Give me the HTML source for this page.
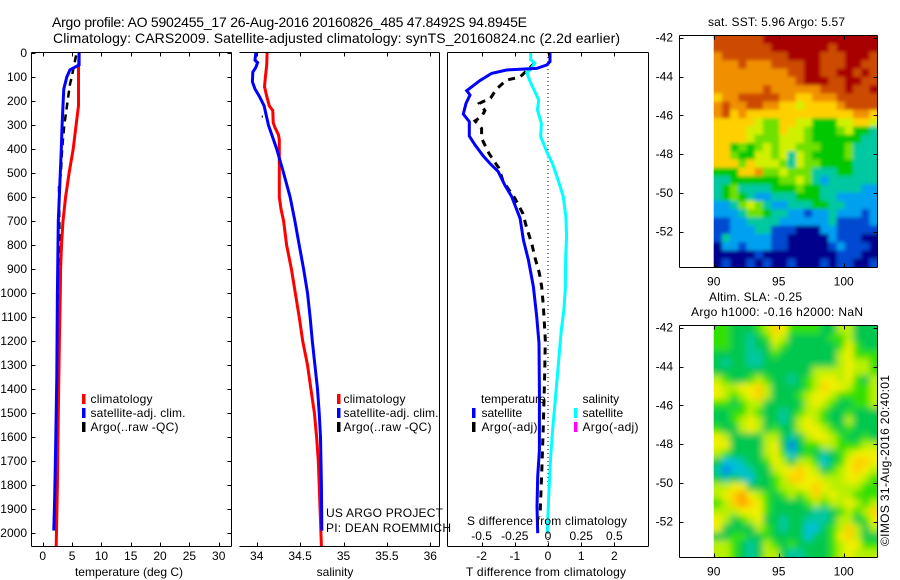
<!DOCTYPE html>
<html><head><meta charset="utf-8"><title>Argo profile</title>
<style>
html,body{margin:0;padding:0;background:#fff;width:900px;height:580px;overflow:hidden}
svg{display:block}
text{font-family:"Liberation Sans",sans-serif;font-size:12px;fill:#000}
</style></head>
<body>
<svg id="fig" width="900" height="580" viewBox="0 0 900 580" xmlns="http://www.w3.org/2000/svg">
<defs>
<clipPath id="clip-sst"><rect x="713.7" y="35.5" width="164" height="232"/></clipPath>
<clipPath id="clip-sla"><rect x="713.7" y="325.5" width="164" height="232"/></clipPath>
<filter id="soft-sst" x="-10%" y="-10%" width="120%" height="120%"><feGaussianBlur stdDeviation="1.8"/></filter>
<filter id="soft-sla" x="-10%" y="-10%" width="120%" height="120%"><feGaussianBlur stdDeviation="3.5"/></filter>
</defs>
<rect x="0" y="0" width="900" height="580" fill="#fff"/>
<text x="52" y="27" style="font-size:14px" textLength="475">Argo profile: AO 5902455_17 26-Aug-2016 20160826_485 47.8492S 94.8945E</text>
<text x="53" y="43" style="font-size:14px" textLength="567">Climatology: CARS2009. Satellite-adjusted climatology: synTS_20160824.nc (2.2d earlier)</text>
<g id="heat"></g>
<g id="marks"></g>
<g id="axes"></g>
<g>
<rect x="82" y="394" width="3.5" height="10" fill="#f00"/><rect x="82" y="408" width="3.5" height="10" fill="#00f"/><rect x="82" y="422" width="3.5" height="10" fill="#000"/>
<text x="90.5" y="403" textLength="62">climatology</text><text x="90.5" y="417" textLength="95">satellite-adj. clim.</text><text x="90.5" y="431" textLength="88">Argo(..raw -QC)</text>
</g>
<g>
<rect x="337" y="394" width="3.5" height="10" fill="#f00"/><rect x="337" y="408" width="3.5" height="10" fill="#00f"/><rect x="337" y="422" width="3.5" height="10" fill="#000"/>
<text x="343.5" y="403" textLength="62">climatology</text><text x="343.5" y="417" textLength="95">satellite-adj. clim.</text><text x="343.5" y="431" textLength="88">Argo(..raw -QC)</text>
</g>
<g>
<rect x="472" y="408" width="3.5" height="10" fill="#00f"/><rect x="472" y="422" width="3.5" height="10" fill="#000"/>
<rect x="574" y="408" width="3.5" height="10" fill="#0ff"/><rect x="574" y="422" width="3.5" height="10" fill="#f0f"/>
<text x="481" y="403">temperature</text><text x="481.5" y="417">satellite</text><text x="481.5" y="431" textLength="56">Argo(-adj)</text>
<text x="582.5" y="403">salinity</text><text x="582.5" y="417">satellite</text><text x="582.5" y="431" textLength="56">Argo(-adj)</text>
</g>
<text x="326" y="517" textLength="117">US ARGO PROJECT</text>
<text x="326" y="532" textLength="125">PI: DEAN ROEMMICH</text>
<text x="467" y="525" textLength="160">S difference from climatology</text>
<text x="129" y="576" text-anchor="middle">temperature (deg C)</text>
<text x="335" y="576" text-anchor="middle">salinity</text>
<text x="466" y="576" textLength="160">T difference from climatology</text>
<text x="708" y="26" textLength="137">sat. SST: 5.96 Argo: 5.57</text>
<text x="709" y="301" textLength="93">Altim. SLA: -0.25</text>
<text x="691" y="316" textLength="172">Argo h1000: -0.16 h2000: NaN</text>
<text transform="translate(889,546) rotate(-90)" textLength="171">©IMOS 31-Aug-2016 20:40:01</text>
</svg>
<script>
/* ---- profile data ---- */
const depthTicks = [0,100,200,300,400,500,600,700,800,900,1000,1100,1200,1300,1400,1500,1600,1700,1800,1900,2000];
const tempTicks = [0,5,10,15,20,25,30];
const salTicks = [34,34.5,35,35.5,36];
const salTickLabels = ['34','34.5','35','35.5','36'];
const tDiffTicks = [-2,-1,0,1,2];
const sDiffTicks = [-0.5,-0.25,0,0.25,0.5];
const sDiffTickLabels = ['-0.5','-0.25','0','0.25','0.5'];
const latTicks = [-42,-44,-46,-48,-50,-52];
const lonTicks = [90,95,100];

const tempClimDepth = [0,60,170,220,300,400,500,600,700,800,900,1000,1200,1500,1800,2054];
const tempClimValue = [6.2,6.1,6.1,6.1,5.7,5.2,4.5,3.9,3.46,3.2,3.05,3.0,2.85,2.66,2.5,2.3];
const tempSatDepth = [0,50,70,100,150,200,300,400,500,600,700,900,1000,1350,1650,1850,1990];
const tempSatValue = [6.2,6.2,4.65,4.1,3.6,3.5,3.3,3.17,3.0,2.83,2.66,2.55,2.5,2.4,2.2,2.05,1.9];
const tempArgoDepth = [10,100,130,180,250,300,350,400,500,550,700,800,900,1000,1300,1500,2000];
const tempArgoValue = [5.7,4.95,4.65,4.37,3.97,3.68,3.5,3.3,3.1,2.78,2.83,2.9,2.83,2.9,2.72,2.55,2.25];

const salClimDepth = [0,50,100,140,180,220,240,290,310,340,360,600,650,700,800,900,1000,1100,1200,1300,1400,1500,1600,1700,1800,2054];
const salClimValue = [34.12,34.115,34.10,34.09,34.115,34.145,34.185,34.19,34.21,34.25,34.26,34.26,34.28,34.31,34.345,34.40,34.445,34.49,34.53,34.585,34.625,34.665,34.69,34.71,34.72,34.745];
const salSatDepth = [0,30,40,60,80,120,150,180,220,300,400,500,600,700,800,900,1000,1100,1200,1300,1400,1500,1600,1800,1990];
const salSatValue = [33.99,33.98,34.01,33.99,33.955,33.95,33.98,34.03,34.085,34.135,34.23,34.31,34.385,34.44,34.49,34.54,34.585,34.615,34.64,34.67,34.70,34.72,34.735,34.745,34.75];
const salArgoDepth = [260,270];
const salArgoValue = [34.065,34.065];

const tDiffSatDepth = [0,36,50,64,71,85,115,157,175,210,254,286,346,383,429,460,494,550,599,689,779,862,974,1098,1210,1404,1654,1765,1890,2001];
const tDiffSatValue = [0.06,0.06,-0.04,-0.34,-1.25,-1.70,-2.05,-2.45,-2.35,-2.47,-2.55,-2.37,-2.37,-2.2,-1.95,-1.75,-1.5,-1.3,-1.09,-0.84,-0.74,-0.59,-0.44,-0.34,-0.27,-0.26,-0.26,-0.31,-0.33,-0.31];
const sDiffSatDepth = [0,28,42,71,82,119,154,196,237,293,348,411,462,536,599,682,765,849,981,1071,1154,1251,1348,1459,1571,1682,1848,2001];
const sDiffSatValue = [-0.13,-0.13,-0.10,-0.135,-0.16,-0.135,-0.105,-0.07,-0.08,-0.05,-0.055,-0.01,0.035,0.08,0.115,0.135,0.14,0.133,0.13,0.12,0.10,0.085,0.07,0.053,0.035,0.02,0.005,-0.005];
const tDiffArgoDepth = [40,100,113,150,188,210,240,265,283,314,355,418,480,536,605,668,730,793,855,918,974,1057,1196,1335,1543,1751,1932];
const tDiffArgoValue = [-0.39,-0.84,-1.25,-1.55,-1.73,-2.07,-1.9,-2.0,-2.2,-2.0,-2.0,-1.78,-1.48,-1.35,-1.0,-0.76,-0.64,-0.49,-0.39,-0.26,-0.19,-0.14,-0.08,-0.10,-0.14,-0.19,-0.24];

/* ---- map data: colour level per cell, north to south ---- */
const sstPalette = ['#00008c','#0048d0','#00a0f0','#00c8a0','#00c800','#70e000','#d0f000','#ffd000','#f09000','#cc4c00','#a80000'];
const slaPalette = ['#0080f0','#00c0d8','#00c8a0','#00c850','#30e000','#b8f000','#f0f000','#ffd000','#ffa000'];
const sstLevels = [
[9,9,9,9,9,9,10,10,10,10,10,10,10,10,10,10,10,10,10,10],
[9,9,9,9,9,9,9,10,10,10,10,10,10,10,9,10,10,10,10,10],
[8,9,9,9,9,9,9,9,9,10,10,10,10,9,9,9,10,10,10,9],
[8,8,8,9,8,8,8,9,9,9,9,10,10,9,9,9,10,10,9,9],
[8,8,8,8,8,8,8,8,8,9,9,10,10,9,9,10,10,9,10,9],
[8,8,8,8,8,8,8,8,8,8,9,10,10,10,9,9,10,10,9,9],
[8,8,8,8,8,8,9,8,8,8,8,8,8,9,9,9,10,9,9,10],
[7,8,8,9,9,9,9,9,8,8,7,7,8,8,8,9,9,9,9,9],
[8,9,8,8,9,9,8,8,7,7,6,7,7,7,7,8,9,9,9,9],
[8,9,7,8,7,7,7,7,7,7,7,7,7,7,7,7,7,8,8,7],
[7,7,7,7,7,6,5,5,7,7,6,6,4,4,4,6,6,7,7,6],
[7,7,7,7,6,6,5,5,7,6,6,5,4,4,4,5,6,4,4,3],
[7,7,7,7,6,5,5,5,6,6,6,5,4,4,4,4,4,4,3,3],
[7,7,4,5,4,5,6,5,6,6,5,5,5,4,4,4,5,3,3,3],
[7,7,5,4,4,6,6,5,6,3,6,5,4,4,4,4,5,3,3,3],
[7,7,7,5,7,6,6,6,5,3,6,5,5,4,4,4,4,3,3,3],
[4,4,4,7,7,8,5,5,6,5,5,5,3,3,3,4,4,3,3,3],
[3,3,4,4,4,4,4,4,5,5,6,5,3,2,3,3,3,3,3,3],
[3,4,5,3,3,3,3,4,4,4,5,4,4,3,3,3,3,3,2,2],
[3,4,5,4,3,2,2,3,3,3,4,4,4,3,3,2,2,2,2,2],
[2,2,3,5,6,5,3,2,2,3,3,3,4,4,3,3,2,2,2,2],
[2,2,2,3,5,5,4,3,3,2,2,1,2,2,3,2,2,2,1,2],
[1,1,2,2,3,3,3,3,2,2,2,2,2,2,3,1,1,1,1,2],
[1,1,2,2,2,3,3,1,1,1,0,0,0,2,2,1,1,1,1,1],
[1,3,2,2,2,2,2,1,1,0,0,0,0,0,2,1,1,1,0,0],
[0,2,2,1,2,2,2,1,1,0,0,0,0,0,1,2,1,1,1,0],
[0,0,0,0,0,1,0,0,0,0,0,0,0,0,0,1,1,1,0,0],
[0,1,0,0,1,0,1,0,0,1,0,0,0,1,0,1,1,0,0,1]];
const slaLevels = [
[4,4,3,3,3,4,5,7,6,4,4,4,4,3,3,5,5,3,3,3],
[4,4,3,3,2,3,4,6,5,3,3,3,3,3,4,4,5,3,3,3],
[4,4,3,3,2,3,3,5,4,3,3,3,3,3,3,4,6,4,3,3],
[3,3,3,3,2,2,3,4,3,3,3,3,3,3,3,5,6,4,4,4],
[3,2,3,3,2,2,3,3,3,3,3,3,3,3,3,5,6,5,5,4],
[3,3,3,3,3,3,3,3,3,3,3,3,5,5,5,5,6,5,5,4],
[5,4,3,3,4,5,4,3,3,2,3,4,5,6,6,5,6,4,3,5],
[6,5,5,6,6,7,5,3,3,3,3,4,5,7,6,6,5,4,4,5],
[6,5,4,5,6,7,5,3,3,3,4,5,6,6,5,4,4,4,4,5],
[4,4,3,4,5,5,3,3,3,3,3,5,6,5,4,3,3,4,4,5],
[3,3,4,4,5,4,3,3,2,3,4,5,5,4,3,3,4,3,3,3],
[3,3,4,5,6,5,3,3,2,3,5,6,5,4,3,3,5,3,3,3],
[4,3,3,5,6,5,3,4,3,3,5,6,6,5,4,3,4,3,3,3],
[6,5,3,3,3,3,5,5,3,2,3,5,6,6,5,4,3,3,4,3],
[6,6,3,3,3,3,5,6,3,0,3,4,4,5,5,4,4,4,5,5],
[5,4,3,3,3,3,5,6,4,1,3,4,3,2,3,4,5,6,6,6],
[3,1,1,2,3,3,4,6,5,3,5,5,4,1,3,4,6,7,7,6],
[2,0,1,1,2,3,3,5,6,6,7,6,5,3,4,5,6,7,6,5],
[3,2,3,2,1,3,3,4,5,7,7,6,6,5,5,5,6,6,5,4],
[5,5,6,6,3,3,3,4,5,5,6,6,7,6,5,5,5,5,4,4],
[5,6,7,8,6,5,4,3,4,5,4,5,7,5,6,5,5,4,4,4],
[4,5,7,8,7,6,4,3,3,3,3,4,5,4,5,5,6,5,4,5],
[5,5,5,6,6,6,4,3,3,3,3,3,2,2,3,4,5,4,5,7],
[6,5,3,4,5,6,3,3,2,3,3,2,2,2,3,5,5,3,4,6],
[6,3,3,3,3,5,4,3,2,3,3,1,1,3,4,5,7,5,3,5],
[3,3,4,4,3,3,4,3,3,3,3,1,3,3,4,6,7,5,3,3],
[5,5,4,3,2,3,5,4,3,4,3,3,3,3,4,5,6,6,4,4],
[5,5,4,3,2,3,5,5,3,2,2,3,3,3,4,5,6,5,5,5]];

/* ---- axis functions ---- */
const NS = 'http://www.w3.org/2000/svg';
const depthY = d => 53 + d * 0.24;
const tempX = t => 42.7 + t * 5.867;
const salX = s => 256.7 + (s - 34) * 86.8;
const tDiffX = t => 548 + t * 33.2;
const sDiffX = s => 548 + s * 132.8;
const lonX = l => 713.7 + (l - 90) * 13;
const latY = (lat, top) => top + 2.2 + (-42 - lat) * 19.4;

const marks = document.getElementById('marks');
const axes = document.getElementById('axes');
const heat = document.getElementById('heat');

function node(tag, parent) {
  const n = document.createElementNS(NS, tag);
  parent.appendChild(n);
  return n;
}
function polyPoints(depths, values, xf) {
  return depths.map((d, i) => xf(values[i]).toFixed(1) + ',' + depthY(d).toFixed(1)).join(' ');
}
function drawLine(el, depths, values, xf, color, width, dash) {
  el.setAttribute('points', polyPoints(depths, values, xf));
  el.setAttribute('fill', 'none');
  el.setAttribute('stroke', color);
  el.setAttribute('stroke-width', width);
  if (dash) el.setAttribute('stroke-dasharray', dash);
}
function line(parent, x1, y1, x2, y2) {
  const l = node('line', parent);
  l.setAttribute('x1', x1); l.setAttribute('y1', y1);
  l.setAttribute('x2', x2); l.setAttribute('y2', y2);
  l.setAttribute('stroke', '#000'); l.setAttribute('stroke-width', 1);
  l.setAttribute('shape-rendering', 'crispEdges');
  return l;
}
function label(parent, x, y, str, anchor) {
  const t = node('text', parent);
  t.setAttribute('x', x); t.setAttribute('y', y);
  t.setAttribute('text-anchor', anchor);
  t.textContent = str;
  return t;
}

/* ---- profile lines ---- */
let el;
el = node('polyline', marks);


drawLine(el, tempArgoDepth, tempArgoValue, tempX, '#000', 2.5, '7 5');
el = node('polyline', marks);


drawLine(el, tempClimDepth, tempClimValue, tempX, '#f00', 3);
el = node('polyline', marks);


drawLine(el, tempSatDepth, tempSatValue, tempX, '#00f', 3);
el = node('polyline', marks);


drawLine(el, salArgoDepth, salArgoValue, salX, '#000', 1);
el = node('polyline', marks);


drawLine(el, salClimDepth, salClimValue, salX, '#f00', 3);
el = node('polyline', marks);


drawLine(el, salSatDepth, salSatValue, salX, '#00f', 3);
el = node('line', marks);


el.setAttribute('x1', tDiffX(0)); el.setAttribute('x2', tDiffX(0));
el.setAttribute('y1', 53); el.setAttribute('y2', 546);
el.setAttribute('stroke', '#000'); el.setAttribute('stroke-dasharray', '1 3');
el = node('polyline', marks);


drawLine(el, tDiffArgoDepth, tDiffArgoValue, tDiffX, '#000', 3, '7 6');
el = node('polyline', marks);


drawLine(el, sDiffSatDepth, sDiffSatValue, sDiffX, '#0ff', 3);
el = node('polyline', marks);


drawLine(el, tDiffSatDepth, tDiffSatValue, tDiffX, '#00f', 3);

/* ---- heatmaps (edge cells run past the clip so the softening stays opaque) ---- */
function drawMap(levels, palette, top, height, group) {
  const nr = levels.length;
  const pad = 14;
  levels.forEach((row, r) => {
    const nc = row.length;
    row.forEach((v, c) => {
      const cell = node('rect', group);
      
      
      const padL = c === 0 ? pad : 0, padR = c === nc - 1 ? pad : 0;
      const padT = r === 0 ? pad : 0, padB = r === nr - 1 ? pad : 0;
      cell.setAttribute('x', (713.7 + c * 164 / nc - padL).toFixed(2));
      cell.setAttribute('y', (top + r * height / nr - padT).toFixed(2));
      cell.setAttribute('width', (164 / nc + 0.5 + padL + padR).toFixed(2));
      cell.setAttribute('height', (height / nr + 0.5 + padT + padB).toFixed(2));
      cell.setAttribute('fill', palette[Math.max(0, Math.min(palette.length - 1, Math.round(v)))]);
    });
  });
}
const clipSst = node('g', heat);
clipSst.setAttribute('clip-path', 'url(#clip-sst)');
el = node('g', clipSst);


el.setAttribute('filter', 'url(#soft-sst)');
drawMap(sstLevels, sstPalette, 35.5, 231.5, el);
const clipSla = node('g', heat);
clipSla.setAttribute('clip-path', 'url(#clip-sla)');
el = node('g', clipSla);


el.setAttribute('filter', 'url(#soft-sla)');
drawMap(slaLevels, slaPalette, 325.5, 231.5, el);

/* ---- axes ---- */
function box(parent, x0, y0, x1, y1, hasLeft) {
  line(parent, x0, y0, x1, y0);
  line(parent, x0, y1, x1, y1);
  line(parent, x1, y0, x1, y1);
  if (hasLeft) line(parent, x0, y0, x0, y1);
}
const X0 = [31.5, 239.5, 447.5], X1 = [231.5, 439.5, 648.5], YT = 52.5, YB = 546.5;

const axT = node('g', axes);


const axS = node('g', axes);


const axD = node('g', axes);


box(axT, X0[0], YT, X1[0], YB, true);
box(axS, X0[1], YT, X1[1], YB, false);
box(axD, X0[2], YT, X1[2], YB, true);

depthTicks.forEach(d => {
  const y = Math.round(depthY(d)) + 0.5;
  line(axT, X0[0], y, X0[0] + 4, y);
  line(axT, X1[0] - 4, y, X1[0], y);
  label(axT, 27, depthY(d) + 4, String(d), 'end');
});
function xTicks(parent, ticks, names, xf, labelY) {
  ticks.forEach((v, i) => {
    const x = Math.round(xf(v)) + 0.5;
    line(parent, x, YT, x, YT + 4);
    line(parent, x, YB - 4, x, YB);
    label(parent, xf(v), labelY, names[i], 'middle');
  });
}
xTicks(axT, tempTicks, tempTicks.map(String), tempX, 560);
xTicks(axS, salTicks, salTickLabels, salX, 560);
xTicks(axD, tDiffTicks, tDiffTicks.map(String), tDiffX, 560);
sDiffTicks.forEach((v, i) => {
  label(axD, sDiffX(v), 540, sDiffTickLabels[i], 'middle');
});

function mapAxes(parent, top, bottom) {
  const l = 679.5, r = 877.5;
  box(parent, l, top, r, bottom, true);
  latTicks.forEach(lat => {
    const y = Math.round(latY(lat, top)) + 0.5;
    line(parent, l, y, l + 4, y);
    line(parent, r - 4, y, r, y);
    label(parent, 673, latY(lat, top) + 4, String(lat), 'end');
  });
  lonTicks.forEach(lon => {
    const x = Math.round(lonX(lon)) + 0.5;
    line(parent, x, top, x, top + 4);
    line(parent, x, bottom - 4, x, bottom);
    label(parent, lonX(lon), bottom + 18, String(lon), 'middle');
  });
}
el = node('g', axes);


mapAxes(el, 35.5, 267.5);
el = node('g', axes);


mapAxes(el, 325.5, 557.5);
</script>
</body></html>
